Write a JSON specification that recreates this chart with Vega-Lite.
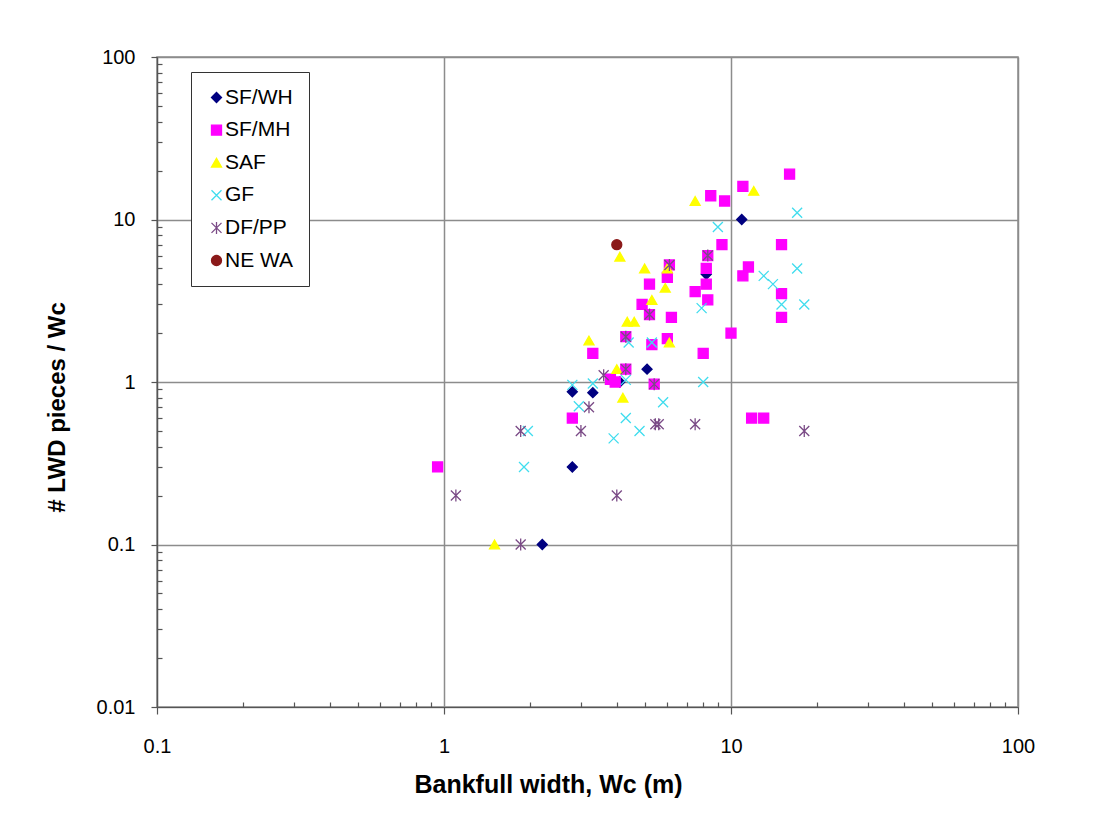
{
  "$schema": "https://vega.github.io/schema/vega-lite/v6.json",
  "width": 861,
  "height": 650,
  "autosize": {"type": "none"},
  "padding": {"left": 157, "top": 57, "right": 86, "bottom": 126},
  "background": "white",
  "config": {
    "font": "Liberation Sans",
    "view": {"stroke": "#8c8c8c", "strokeWidth": 1.5},
    "axis": {
      "labelFont": "Liberation Sans",
      "labelFontSize": 20,
      "labelColor": "#000000",
      "titleFont": "Liberation Sans",
      "titleFontSize": 24,
      "titleFontWeight": "bold",
      "titleColor": "#000000",
      "domainColor": "#555555",
      "domainWidth": 1.2,
      "tickColor": "#555555",
      "tickWidth": 1.2,
      "gridColor": "#8c8c8c",
      "gridWidth": 1.5,
      "labelOverlap": false,
      "labelFlush": false
    }
  },
  "data": {
    "values": [
      {"series": "SF/WH", "width": 10.9, "lwd": 10},
      {"series": "SF/WH", "width": 8.2, "lwd": 4.6},
      {"series": "SF/WH", "width": 5.1, "lwd": 1.2},
      {"series": "SF/WH", "width": 4.1, "lwd": 1.0},
      {"series": "SF/WH", "width": 2.8, "lwd": 0.87},
      {"series": "SF/WH", "width": 3.3, "lwd": 0.86},
      {"series": "SF/WH", "width": 2.8, "lwd": 0.3},
      {"series": "SF/WH", "width": 2.2, "lwd": 0.1},
      {"series": "SF/MH", "width": 16, "lwd": 19},
      {"series": "SF/MH", "width": 11, "lwd": 16},
      {"series": "SF/MH", "width": 8.5, "lwd": 14},
      {"series": "SF/MH", "width": 9.5, "lwd": 13},
      {"series": "SF/MH", "width": 9.3, "lwd": 7},
      {"series": "SF/MH", "width": 15, "lwd": 7},
      {"series": "SF/MH", "width": 8.3, "lwd": 6.0},
      {"series": "SF/MH", "width": 8.2, "lwd": 5.0},
      {"series": "SF/MH", "width": 11.5, "lwd": 5.1},
      {"series": "SF/MH", "width": 11, "lwd": 4.5},
      {"series": "SF/MH", "width": 8.2, "lwd": 4.0},
      {"series": "SF/MH", "width": 7.5, "lwd": 3.6},
      {"series": "SF/MH", "width": 8.3, "lwd": 3.2},
      {"series": "SF/MH", "width": 15, "lwd": 3.5},
      {"series": "SF/MH", "width": 15, "lwd": 2.5},
      {"series": "SF/MH", "width": 10, "lwd": 2.0},
      {"series": "SF/MH", "width": 8.0, "lwd": 1.5},
      {"series": "SF/MH", "width": 6.1, "lwd": 5.25},
      {"series": "SF/MH", "width": 6.0, "lwd": 4.4},
      {"series": "SF/MH", "width": 5.2, "lwd": 4.0},
      {"series": "SF/MH", "width": 4.9, "lwd": 3.0},
      {"series": "SF/MH", "width": 5.2, "lwd": 2.6},
      {"series": "SF/MH", "width": 6.2, "lwd": 2.5},
      {"series": "SF/MH", "width": 4.3, "lwd": 1.9},
      {"series": "SF/MH", "width": 5.3, "lwd": 1.7},
      {"series": "SF/MH", "width": 6.0, "lwd": 1.85},
      {"series": "SF/MH", "width": 3.3, "lwd": 1.5},
      {"series": "SF/MH", "width": 4.3, "lwd": 1.2},
      {"series": "SF/MH", "width": 3.8, "lwd": 1.04},
      {"series": "SF/MH", "width": 3.95, "lwd": 1.0},
      {"series": "SF/MH", "width": 5.4, "lwd": 0.97},
      {"series": "SF/MH", "width": 2.8, "lwd": 0.6},
      {"series": "SF/MH", "width": 0.95, "lwd": 0.3},
      {"series": "SF/MH", "width": 11.8, "lwd": 0.6},
      {"series": "SF/MH", "width": 13.0, "lwd": 0.6},
      {"series": "SAF", "width": 7.5, "lwd": 13},
      {"series": "SAF", "width": 12, "lwd": 15},
      {"series": "SAF", "width": 4.1, "lwd": 5.9},
      {"series": "SAF", "width": 5.0, "lwd": 5.0},
      {"series": "SAF", "width": 6.0, "lwd": 5.0},
      {"series": "SAF", "width": 5.9, "lwd": 3.8},
      {"series": "SAF", "width": 5.3, "lwd": 3.2},
      {"series": "SAF", "width": 4.35, "lwd": 2.35},
      {"series": "SAF", "width": 4.6, "lwd": 2.35},
      {"series": "SAF", "width": 3.2, "lwd": 1.8},
      {"series": "SAF", "width": 6.1, "lwd": 1.75},
      {"series": "SAF", "width": 4.0, "lwd": 1.2},
      {"series": "SAF", "width": 4.2, "lwd": 0.8},
      {"series": "SAF", "width": 1.5, "lwd": 0.1},
      {"series": "GF", "width": 17, "lwd": 11},
      {"series": "GF", "width": 9.0, "lwd": 9.0},
      {"series": "GF", "width": 17, "lwd": 5.0},
      {"series": "GF", "width": 13, "lwd": 4.5},
      {"series": "GF", "width": 14, "lwd": 4.0},
      {"series": "GF", "width": 15, "lwd": 3.0},
      {"series": "GF", "width": 18, "lwd": 3.0},
      {"series": "GF", "width": 7.9, "lwd": 2.85},
      {"series": "GF", "width": 4.4, "lwd": 1.75},
      {"series": "GF", "width": 5.3, "lwd": 1.75},
      {"series": "GF", "width": 4.3, "lwd": 1.03},
      {"series": "GF", "width": 8.0, "lwd": 1.0},
      {"series": "GF", "width": 2.8, "lwd": 0.96},
      {"series": "GF", "width": 3.3, "lwd": 0.98},
      {"series": "GF", "width": 2.95, "lwd": 0.71},
      {"series": "GF", "width": 1.96, "lwd": 0.5},
      {"series": "GF", "width": 1.9, "lwd": 0.3},
      {"series": "GF", "width": 4.3, "lwd": 0.6},
      {"series": "GF", "width": 5.8, "lwd": 0.75},
      {"series": "GF", "width": 4.8, "lwd": 0.5},
      {"series": "GF", "width": 3.9, "lwd": 0.45},
      {"series": "DF/PP", "width": 1.85, "lwd": 0.5},
      {"series": "DF/PP", "width": 1.1, "lwd": 0.2},
      {"series": "DF/PP", "width": 1.85, "lwd": 0.1},
      {"series": "DF/PP", "width": 4.0, "lwd": 0.2},
      {"series": "DF/PP", "width": 3.0, "lwd": 0.5},
      {"series": "DF/PP", "width": 3.2, "lwd": 0.7},
      {"series": "DF/PP", "width": 3.6, "lwd": 1.1},
      {"series": "DF/PP", "width": 5.45, "lwd": 0.55},
      {"series": "DF/PP", "width": 5.6, "lwd": 0.55},
      {"series": "DF/PP", "width": 7.5, "lwd": 0.55},
      {"series": "DF/PP", "width": 18, "lwd": 0.5},
      {"series": "DF/PP", "width": 8.3, "lwd": 6.0},
      {"series": "DF/PP", "width": 5.2, "lwd": 2.6},
      {"series": "DF/PP", "width": 4.3, "lwd": 1.9},
      {"series": "DF/PP", "width": 4.3, "lwd": 1.2},
      {"series": "DF/PP", "width": 5.4, "lwd": 0.97},
      {"series": "DF/PP", "width": 6.1, "lwd": 5.25},
      {"series": "NE WA", "width": 4.0, "lwd": 7.0}
    ]
  },
  "mark": {"type": "point", "filled": true, "size": 100, "strokeWidth": 1.3, "opacity": 1, "fillOpacity": 1, "strokeOpacity": 1},
  "encoding": {
    "x": {
      "field": "width",
      "type": "quantitative",
      "scale": {"type": "log", "domain": [0.1, 100], "nice": false},
      "axis": {
        "title": "Bankfull width, Wc (m)",
        "titleFontSize": 25,
        "values": [0.1, 0.2, 0.3, 0.4, 0.5, 0.6, 0.7, 0.8, 0.9, 1, 2, 3, 4, 5, 6, 7, 8, 9, 10, 20, 30, 40, 50, 60, 70, 80, 90, 100],
        "format": "~g",
        "labelExpr": "(datum.value == 0.1 || datum.value == 1 || datum.value == 10 || datum.value == 100) ? datum.label : ''",
        "tickSize": {"condition": {"test": "datum.value == 0.1 || datum.value == 1 || datum.value == 10 || datum.value == 100", "value": 7}, "value": -5},
        "gridOpacity": {"condition": {"test": "datum.value == 0.1 || datum.value == 1 || datum.value == 10 || datum.value == 100", "value": 1}, "value": 0},
        "labelPadding": 22,
        "titleX": 391,
        "titleY": 65
      }
    },
    "y": {
      "field": "lwd",
      "type": "quantitative",
      "scale": {"type": "log", "domain": [0.01, 100], "nice": false},
      "axis": {
        "title": "# LWD pieces / Wc",
        "values": [0.01, 0.02, 0.03, 0.04, 0.05, 0.06, 0.07, 0.08, 0.09, 0.1, 0.2, 0.3, 0.4, 0.5, 0.6, 0.7, 0.8, 0.9, 1, 2, 3, 4, 5, 6, 7, 8, 9, 10, 20, 30, 40, 50, 60, 70, 80, 90, 100],
        "format": "~g",
        "labelExpr": "(datum.value == 0.01 || datum.value == 0.1 || datum.value == 1 || datum.value == 10 || datum.value == 100) ? datum.label : ''",
        "tickSize": {"condition": {"test": "datum.value == 0.01 || datum.value == 0.1 || datum.value == 1 || datum.value == 10 || datum.value == 100", "value": 6}, "value": -5},
        "gridOpacity": {"condition": {"test": "datum.value == 0.01 || datum.value == 0.1 || datum.value == 1 || datum.value == 10 || datum.value == 100", "value": 1}, "value": 0},
        "labelPadding": 16,
        "titleX": -88,
        "titleY": 350
      }
    },
    "fill": {
      "field": "series",
      "type": "nominal",
      "sort": null,
      "scale": {
        "domain": ["SF/WH", "SF/MH", "SAF", "GF", "DF/PP", "NE WA"],
        "range": ["#000080", "#FF00FF", "#FFFF00", "#40DDEE", "#7A4A86", "#8B1A1A"]
      },
      "legend": {"title": null, "orient": "none", "legendX": 34, "legendY": 15, "strokeColor": "#333333", "fillColor": "#ffffff", "padding": 15, "labelFontSize": 21, "labelFont": "Liberation Sans", "labelColor": "#000000", "rowPadding": 10.6, "symbolSize": 100, "symbolStrokeWidth": 1.3, "labelOffset": -2}
    },
    "stroke": {
      "field": "series",
      "type": "nominal",
      "sort": null,
      "scale": {
        "domain": ["SF/WH", "SF/MH", "SAF", "GF", "DF/PP", "NE WA"],
        "range": ["#000080", "#FF00FF", "#FFFF00", "#40DDEE", "#7A4A86", "#8B1A1A"]
      },
      "legend": {"title": null, "orient": "none", "legendX": 34, "legendY": 15, "strokeColor": "#333333", "fillColor": "#ffffff", "padding": 15, "labelFontSize": 21, "labelFont": "Liberation Sans", "labelColor": "#000000", "rowPadding": 10.6, "symbolSize": 100, "symbolStrokeWidth": 1.3, "labelOffset": -2}
    },
    "shape": {
      "field": "series",
      "type": "nominal",
      "sort": null,
      "scale": {
        "domain": ["SF/WH", "SF/MH", "SAF", "GF", "DF/PP", "NE WA"],
        "range": ["diamond", "square", "triangle-up", "M-1,-1L1,1M-1,1L1,-1", "M-1,-1L1,1M-1,1L1,-1M0,-1.2L0,1.2", "circle"]
      },
      "legend": {"title": null, "orient": "none", "legendX": 34, "legendY": 15, "strokeColor": "#333333", "fillColor": "#ffffff", "padding": 15, "labelFontSize": 21, "labelFont": "Liberation Sans", "labelColor": "#000000", "rowPadding": 10.6, "symbolSize": 100, "symbolStrokeWidth": 1.3, "labelOffset": -2}
    }
  }
}
